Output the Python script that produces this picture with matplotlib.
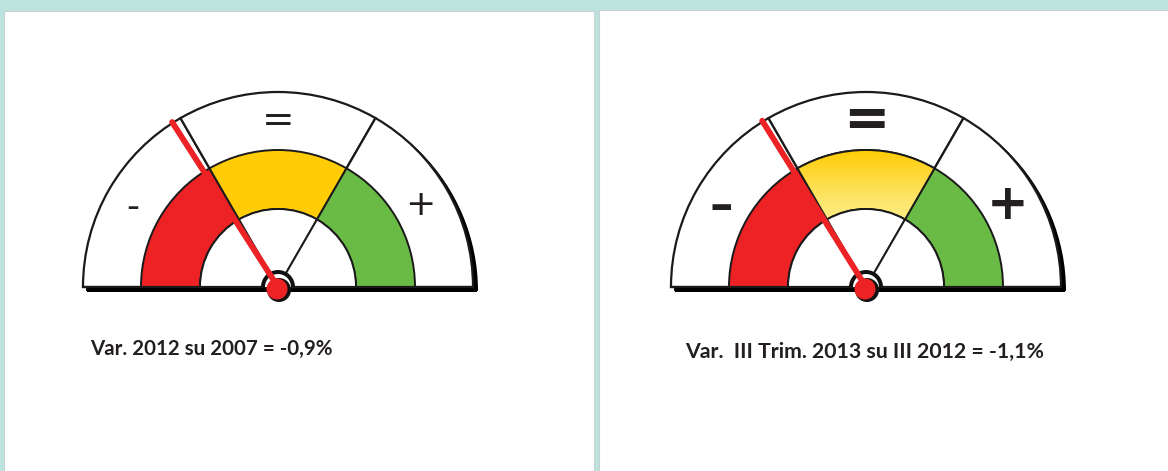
import numpy as np
import matplotlib
matplotlib.use("Agg")
import matplotlib.pyplot as plt
from matplotlib.patches import Wedge, Rectangle, Circle
from matplotlib.colors import LinearSegmentedColormap

# ---- data ----
sector_labels = ["-", "=", "+"]
sector_colors = ["#ed2224", "#ffcc05", "#6abb45"]
sector_bounds = [0, 1, 2, 3]          # gauge scale: 0..3, three equal sectors
needle_values = [0.955, 0.967]        # needle position on the gauge scale
captions = ["Var. 2012 su 2007 = -0,9%",
            "Var.  III Trim. 2013 su III 2012 = -1,1%"]

W, H = 1168, 471
fig = plt.figure(figsize=(W / 100, H / 100), dpi=100)
ax = fig.add_axes([0, 0, 1, 1])
ax.set_xlim(0, W)
ax.set_ylim(0, H)
ax.set_aspect("auto")
ax.axis("off")

# background and panels
ax.add_patch(Rectangle((0, 0), W, H, color="#bde3de", zorder=0))
ax.add_patch(Rectangle((4, -2), 590, H - 11 + 2, facecolor="white",
                       edgecolor="#c9d3d1", lw=0.8, zorder=0.5))
ax.add_patch(Rectangle((599, -2), 580, H - 10 + 2, facecolor="white",
                       edgecolor="#c9d3d1", lw=0.8, zorder=0.5))

def val2ang(v):
    return 180.0 - v * 60.0

R_OUT, R_BAND, R_IN = 195, 137, 78
centers = [(278, H - 287), (866, H - 287)]

for gi, (cx, cy) in enumerate(centers):
    big = gi == 1
    # shadow
    ax.add_patch(Wedge((cx + 4, cy - 4), R_OUT + 1, 0, 180, facecolor="black",
                       edgecolor="none", zorder=1))
    ax.add_patch(Rectangle((cx - R_OUT + 4, cy - 5), 2 * R_OUT, 5,
                           facecolor="black", edgecolor="none", zorder=1))
    # outer white sectors
    for i in range(3):
        a1, a2 = val2ang(sector_bounds[i + 1]), val2ang(sector_bounds[i])
        ax.add_patch(Wedge((cx, cy), R_OUT, a1, a2, facecolor="white",
                           edgecolor="#1a1a1a", lw=1.6, zorder=2))
    # coloured band
    for i in range(3):
        a1, a2 = val2ang(sector_bounds[i + 1]), val2ang(sector_bounds[i])
        w = Wedge((cx, cy), R_BAND, a1, a2, width=R_BAND - R_IN,
                  facecolor=sector_colors[i], edgecolor="#1a1a1a", lw=1.4,
                  zorder=3)
        ax.add_patch(w)
        if big and i == 1:
            w.set_facecolor("none")
            cmap = LinearSegmentedColormap.from_list(
                "yg", ["#fff7a6", "#fde56a", "#ffcc05"])
            grad = np.linspace(0, 1, 256).reshape(-1, 1)
            ext = (cx - R_BAND, cx + R_BAND, cy + R_IN * 0.5, cy + R_BAND)
            im = ax.imshow(grad, cmap=cmap, extent=ext, origin="lower",
                           aspect="auto", zorder=3.1)
            im.set_clip_path(w)
            ax.add_patch(Wedge((cx, cy), R_BAND, a1, a2, width=R_BAND - R_IN,
                               facecolor="none", edgecolor="#1a1a1a", lw=1.4,
                               zorder=3.2))
    # inner white
    for i in range(3):
        a1, a2 = val2ang(sector_bounds[i + 1]), val2ang(sector_bounds[i])
        ax.add_patch(Wedge((cx, cy), R_IN, a1, a2, facecolor="white",
                           edgecolor="#1a1a1a", lw=1.4, zorder=3.5))
    # baseline
    ax.plot([cx - R_OUT, cx + R_OUT], [cy, cy], color="#1a1a1a", lw=1.6,
            zorder=3.6)
    # sector labels
    fs = [26, 28, 26] if not big else [34, 40, 36]
    wt = "normal" if not big else "bold"
    lab_pos = [(cx - 145, cy + 80), (cx, cy + 166), (cx + 142, cy + 82)]
    for (lx, ly), lab, f in zip(lab_pos, sector_labels, fs):
        txt = lab if lab != "-" else ("-" if not big else "\u2013")
        ax.text(lx, ly, txt, fontsize=f, ha="center", va="center",
                color="#231f20", family="DejaVu Sans", weight=wt, zorder=4)
    # hub
    ax.add_patch(Wedge((cx, cy), 17, 0, 180, facecolor="#111111",
                       edgecolor="none", zorder=4))
    ax.add_patch(Wedge((cx, cy), 13, 0, 180, facecolor="white",
                       edgecolor="none", zorder=4.1))
    ax.add_patch(Circle((cx + 1, cy - 3), 12, facecolor="#111111",
                        edgecolor="none", zorder=4.2))
    # needle
    ang = np.deg2rad(val2ang(needle_values[gi]))
    L = 196
    ax.plot([cx, cx + L * np.cos(ang)], [cy, cy + L * np.sin(ang)],
            color="#ed2224", lw=4.2, solid_capstyle="round", zorder=4.5)
    ax.add_patch(Circle((cx - 1, cy - 2), 10.5, facecolor="#ed2224",
                        edgecolor="none", zorder=4.6))

# captions
ax.text(90, H - 349, captions[0], fontsize=14.8, weight="bold", family="Lato",
        color="#231f20", ha="left", va="center")
ax.text(685, H - 352, captions[1], fontsize=15.3, weight="bold", family="Lato",
        color="#231f20", ha="left", va="center")

fig.savefig("out.png", dpi=100)
